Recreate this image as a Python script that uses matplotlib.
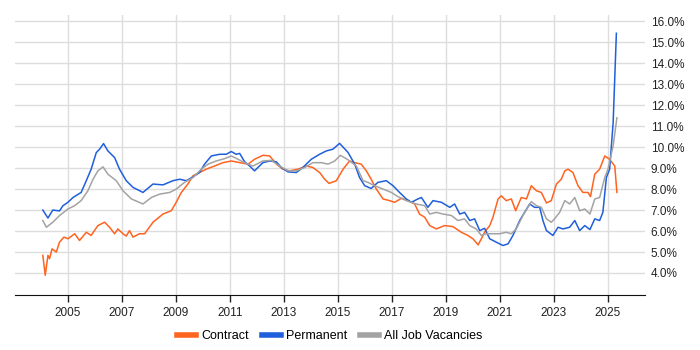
import matplotlib.pyplot as plt
from matplotlib.ticker import FuncFormatter

plt.rcParams['font.family'] = ['Liberation Sans', 'DejaVu Sans']

contract_x = [2004.07, 2004.16, 2004.26, 2004.32, 2004.41, 2004.57, 2004.69, 2004.85, 2005.0,
              2005.25, 2005.43, 2005.68, 2005.86, 2006.11, 2006.36, 2006.54, 2006.73, 2006.85,
              2007.04, 2007.16, 2007.28, 2007.41, 2007.65, 2007.84, 2008.15, 2008.52, 2008.83,
              2009.01, 2009.2, 2009.44, 2009.63, 2009.88, 2010.12, 2010.43, 2010.74, 2011.05,
              2011.36, 2011.67, 2011.91, 2012.22, 2012.47, 2012.72, 2012.96, 2013.21, 2013.52,
              2013.83, 2014.07, 2014.32, 2014.51, 2014.67, 2014.94, 2015.19, 2015.43, 2015.62,
              2015.86, 2016.05, 2016.23, 2016.42, 2016.67, 2016.91, 2017.1, 2017.35, 2017.59,
              2017.84, 2018.02, 2018.21, 2018.4, 2018.64, 2018.95, 2019.26, 2019.57, 2019.81,
              2020.0, 2020.19, 2020.31, 2020.43, 2020.62, 2020.74, 2020.93, 2021.05, 2021.23,
              2021.42, 2021.58, 2021.79, 2021.98, 2022.16, 2022.35, 2022.53, 2022.72, 2022.9,
              2023.09, 2023.27, 2023.4, 2023.52, 2023.7, 2023.89, 2024.07, 2024.26, 2024.35,
              2024.51, 2024.69, 2024.88, 2025.06, 2025.25, 2025.33]
contract_y = [4.84, 3.89, 4.84, 4.68, 5.15, 5.0, 5.47, 5.71, 5.63,
              5.87, 5.55, 5.94, 5.79, 6.26, 6.42, 6.18, 5.87, 6.1,
              5.87, 5.76, 6.02, 5.71, 5.87, 5.87, 6.42, 6.81, 6.97,
              7.37, 7.84, 8.24, 8.63, 8.79, 8.95, 9.1, 9.26, 9.34,
              9.26, 9.19, 9.42, 9.61, 9.58, 9.19, 8.95, 8.87, 8.95,
              9.1, 9.03, 8.79, 8.47, 8.27, 8.4, 8.95, 9.34, 9.26,
              9.19, 8.87, 8.47, 8.0, 7.53, 7.45, 7.37, 7.56, 7.45,
              7.29, 6.81, 6.66, 6.26, 6.1, 6.26, 6.21, 5.94, 5.79,
              5.63, 5.34, 5.63, 5.94, 6.26, 6.66, 7.53, 7.68, 7.45,
              7.53, 6.97, 7.6, 7.53, 8.16, 7.92, 7.84, 7.34, 7.45,
              8.24, 8.47, 8.87, 8.95, 8.79, 8.16, 7.84, 7.84, 7.64,
              8.71, 8.95, 9.58, 9.42, 9.1, 7.84]

permanent_x = [2004.07, 2004.26, 2004.44, 2004.69, 2004.81, 2005.0, 2005.19, 2005.49, 2005.68,
               2005.86, 2006.05, 2006.17, 2006.32, 2006.48, 2006.73, 2006.91, 2007.16, 2007.41,
               2007.78, 2008.15, 2008.52, 2008.89, 2009.14, 2009.38, 2009.63, 2009.88, 2010.06,
               2010.31, 2010.62, 2010.86, 2011.05, 2011.23, 2011.36, 2011.54, 2011.73, 2011.91,
               2012.22, 2012.47, 2012.72, 2012.9, 2013.15, 2013.46, 2013.7, 2014.01, 2014.32,
               2014.57, 2014.81, 2015.06, 2015.37, 2015.62, 2015.8, 2015.99, 2016.23, 2016.48,
               2016.79, 2017.04, 2017.28, 2017.53, 2017.72, 2017.96, 2018.09, 2018.33, 2018.52,
               2018.83, 2019.14, 2019.32, 2019.51, 2019.69, 2019.88, 2020.06, 2020.25, 2020.43,
               2020.62, 2020.86, 2021.11, 2021.3, 2021.48, 2021.73, 2021.91, 2022.1, 2022.28,
               2022.47, 2022.59, 2022.72, 2022.96, 2023.15, 2023.33, 2023.58, 2023.77, 2023.95,
               2024.14, 2024.33, 2024.51, 2024.69, 2024.81, 2024.94, 2025.06, 2025.19, 2025.31]
permanent_y = [7.0, 6.62, 7.0, 6.96, 7.2, 7.37, 7.6, 7.84, 8.4,
               8.95, 9.74, 9.9, 10.17, 9.82, 9.5, 8.95, 8.4, 8.08,
               7.84, 8.24, 8.2, 8.4, 8.47, 8.4, 8.58, 8.8, 9.19,
               9.58, 9.66, 9.66, 9.79, 9.66, 9.7, 9.31, 9.1, 8.87,
               9.26, 9.34, 9.3, 9.03, 8.82, 8.79, 9.03, 9.42, 9.66,
               9.82, 9.9, 10.18, 9.75, 9.19, 8.55, 8.16, 8.03, 8.32,
               8.4, 8.16, 7.84, 7.53, 7.37, 7.53, 7.6, 7.13, 7.45,
               7.37, 7.13, 7.29, 6.81, 6.89, 6.5, 6.58, 6.02, 6.13,
               5.63, 5.47, 5.31, 5.39, 5.79, 6.5, 6.89, 7.29, 7.13,
               7.13, 6.5, 6.02, 5.79, 6.18, 6.1, 6.18, 6.5, 6.02,
               6.26, 6.07, 6.58, 6.5, 6.89, 8.55, 8.95, 11.16, 15.43]

all_x = [2004.07, 2004.2, 2004.44, 2004.69, 2005.0, 2005.25, 2005.49, 2005.74, 2005.93,
         2006.11, 2006.3, 2006.48, 2006.79, 2007.04, 2007.35, 2007.78, 2008.09, 2008.4,
         2008.77, 2009.01, 2009.32, 2009.63, 2009.94, 2010.19, 2010.49, 2010.8, 2011.05,
         2011.3, 2011.54, 2011.85, 2012.22, 2012.53, 2012.84, 2013.15, 2013.46, 2013.77,
         2014.07, 2014.38, 2014.63, 2014.88, 2015.09, 2015.37, 2015.68, 2015.93, 2016.11,
         2016.36, 2016.67, 2016.98, 2017.22, 2017.53, 2017.9, 2018.21, 2018.4, 2018.64,
         2018.89, 2019.2, 2019.44, 2019.69, 2019.88, 2020.12, 2020.31, 2020.49, 2020.74,
         2020.99, 2021.23, 2021.42, 2021.6, 2021.85, 2022.16, 2022.35, 2022.53, 2022.72,
         2022.9, 2023.02, 2023.21, 2023.4, 2023.58, 2023.77, 2023.95, 2024.14, 2024.33,
         2024.51, 2024.69, 2024.88, 2025.0, 2025.19, 2025.33]
all_y = [6.5, 6.18, 6.42, 6.74, 7.05, 7.21, 7.45, 7.92, 8.47,
         8.87, 9.06, 8.71, 8.4, 7.92, 7.53, 7.29, 7.6, 7.76,
         7.84, 8.0, 8.32, 8.55, 8.95, 9.19, 9.34, 9.45, 9.58,
         9.42, 9.26, 9.1, 9.34, 9.37, 9.1, 8.87, 8.87, 9.03,
         9.26, 9.26, 9.19, 9.34, 9.61, 9.4, 9.1, 8.4, 8.32,
         8.16, 8.0, 7.84, 7.64, 7.45, 7.29, 7.21, 6.81, 6.89,
         6.81, 6.74, 6.5, 6.58, 6.26, 6.1, 5.79, 5.87, 5.87,
         5.87, 5.94, 5.87, 6.1, 6.74, 7.4, 7.21, 7.13, 6.58,
         6.42, 6.58, 6.89, 7.45, 7.29, 7.6, 6.97, 7.05, 6.81,
         7.53, 7.6, 8.55, 8.95, 10.06, 11.4]

year_ticks = [2005, 2007, 2009, 2011, 2013, 2015, 2017, 2019, 2021, 2023, 2025]
pct_ticks = [4, 5, 6, 7, 8, 9, 10, 11, 12, 13, 14, 15, 16]

fig = plt.figure(figsize=(7, 3.5), dpi=100)
ax = fig.add_axes([15 / 700, 55 / 350, 630 / 700, 280 / 350])

ax.plot(contract_x, contract_y, color='#ff6320', lw=1.1, label='Contract')
ax.plot(permanent_x, permanent_y, color='#1f5fdc', lw=1.1, label='Permanent')
ax.plot(all_x, all_y, color='#a3a3a3', lw=1.1, label='All Job Vacancies')

ax.set_xlim(2003.04, 2026.37)
ax.set_ylim(2.95, 16.3)
ax.set_xticks(year_ticks)
ax.set_yticks(pct_ticks)
ax.yaxis.set_major_formatter(FuncFormatter(lambda v, p: f'{v:.1f}%'))
ax.yaxis.tick_right()
ax.tick_params(axis='y', length=0, pad=4, labelsize=8.5, colors='#222222')
ax.tick_params(axis='x', length=5, width=1, direction='out', labelsize=8.5, colors='#222222')
ax.grid(True, color='#dddddd', lw=1)
for s in ['top', 'left', 'right']:
    ax.spines[s].set_visible(False)
ax.spines['bottom'].set_color('#111111')

ax.legend(loc='upper center', bbox_to_anchor=(0.5, -0.085), ncol=3, frameon=False,
          fontsize=9, handlelength=1.5, handletextpad=0.45, columnspacing=1.0)
leg = ax.get_legend()
for h in leg.get_lines():
    h.set_linewidth(4)

fig.savefig('out.png', dpi=100)
